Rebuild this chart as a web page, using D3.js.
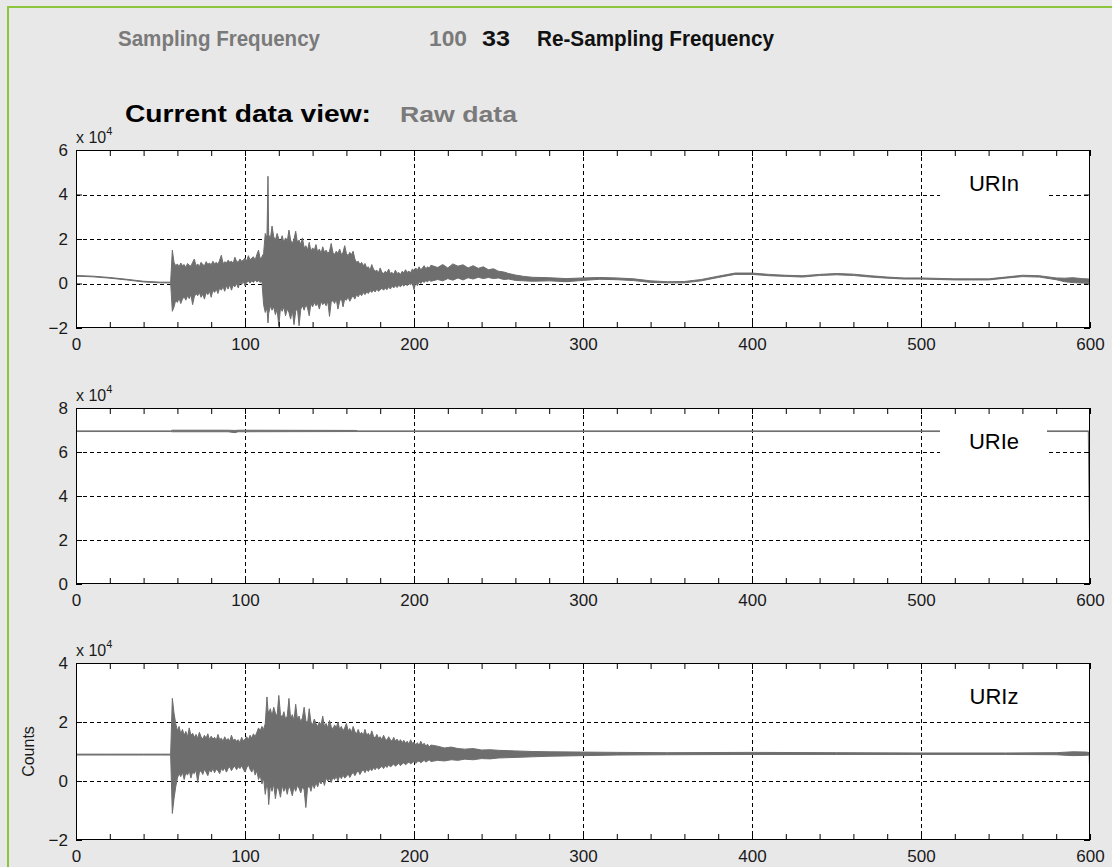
<!DOCTYPE html>
<html>
<head>
<meta charset="utf-8">
<script src="https://cdn.jsdelivr.net/npm/d3@7/dist/d3.min.js"></script>
<style>
  html, body { margin: 0; padding: 0; background: #e8e8e8; }
  svg { display: block; font-family: Arial, "Liberation Sans", sans-serif; }
</style>
</head>
<body>
<svg id="chart"></svg>
<script>
// header values
const samplingFrequency = '100'
const resamplingFrequency = '33'
const dataView = 'Raw data'

// axis ticks
const xTickLabels = [0, 100, 200, 300, 400, 500, 600]
const urinTicks = [-2, 0, 2, 4, 6]
const urieTicks = [0, 2, 4, 6, 8]
const urizTicks = [-2, 0, 2, 4]

// sample times (s) of the strong-motion part, shared by URIn and URIz
const eventTime = [56, 57, 58, 59, 60, 61, 62, 63, 64, 65, 66, 67, 68, 69, 70, 71, 72, 73, 74, 75, 76, 77, 78, 79,
  80, 81, 82, 83, 84, 85, 86, 87, 88, 89, 90, 91, 92, 93, 94, 95, 96, 97, 98, 99, 100, 101, 102, 103,
  104, 105, 106, 107, 108, 109, 110, 111, 112, 113, 113.6, 114, 115, 116, 117, 118, 119, 120, 121, 122, 123,
  124, 125, 126, 127, 128, 129, 130, 131, 132, 133, 134, 135, 136, 137, 138, 139, 140, 141, 142, 143,
  144, 145, 146, 147, 148, 149, 150, 151, 152, 153, 154, 155, 156, 157, 158, 159, 160, 161, 162, 163,
  164, 165, 166, 167, 168, 169, 170, 171, 172, 173, 174, 175, 176, 177, 178, 179, 180, 181, 182, 183,
  184, 185, 186, 187, 188, 189, 190, 191, 192, 193, 194, 195, 196, 197, 198, 199, 200, 201, 202, 203,
  204, 205, 206, 207, 208, 209, 210]

// URIn (x 10^4 counts): quiet parts before and after, envelope during the event
const urinPreTime = [0, 10, 20, 30, 40, 50]
const urinPreHigh = [0.36, 0.33, 0.27, 0.19, 0.10, 0.06]
const urinPreLow = [0.33, 0.30, 0.24, 0.16, 0.07, 0.03]
const urinEventHigh = [0.06, 1.50, 0.95, 0.80, 0.88, 0.75, 0.92, 0.80, 0.85, 0.72, 0.90, 0.82, 0.78, 0.95, 1.10, 0.80, 0.88, 0.76, 0.95, 0.85, 0.80, 0.98, 0.86, 0.92,
  0.84, 1.00, 0.88, 0.95, 0.86, 1.05, 1.27, 0.90, 0.98, 0.92, 1.05, 0.95, 1.00, 0.90, 1.18, 1.00, 0.95, 1.10, 1.00, 1.05, 1.15, 1.00, 1.25, 1.05,
  1.15, 1.20, 1.05, 1.30, 1.50, 1.10, 1.20, 1.35, 2.25, 2.05, 4.82, 2.20, 2.00, 2.58, 2.10, 1.95, 2.25, 2.00, 1.90, 2.15, 1.85,
  2.05, 1.90, 2.40, 1.95, 1.80, 2.00, 2.35, 1.85, 1.95, 1.75, 2.05, 1.60, 1.70, 1.50, 1.85, 1.45, 1.60, 1.50, 1.75, 1.40,
  1.55, 1.35, 1.65, 1.40, 1.50, 1.35, 1.45, 1.80, 1.40, 1.30, 1.45, 1.35, 1.55, 1.30, 1.40, 1.70, 1.35, 1.25, 1.40, 1.30,
  1.45, 1.10, 0.95, 1.00, 0.85, 0.95, 0.80, 0.90, 0.70, 0.75, 0.60, 0.85, 0.65, 0.55, 0.60, 0.48, 0.70, 0.50, 0.45, 0.55,
  0.48, 0.65, 0.45, 0.50, 0.42, 0.60, 0.45, 0.50, 0.40, 0.55, 0.48, 0.62, 0.50, 0.55, 0.48, 0.65, 0.58, 0.70, 0.60, 0.75,
  0.62, 0.70, 0.80, 0.66, 0.75, 0.68, 0.82]
const urinEventLow = [0.03, -1.25, -1.05, -0.75, -0.85, -0.65, -0.90, -0.70, -0.60, -0.75, -0.55, -0.68, -0.50, -0.95, -0.60, -0.45, -0.55, -0.40, -0.62, -0.48, -0.70, -0.40, -0.50, -0.35,
  -0.62, -0.30, -0.40, -0.25, -0.45, -0.20, -0.30, -0.15, -0.35, -0.10, -0.25, -0.05, -0.30, -0.08, -0.15, 0.00, -0.20, 0.05, -0.05, 0.10, -0.10, 0.05, 0.10, 0.02,
  0.12, 0.05, 0.15, 0.08, 0.12, 0.05, 0.10, -0.95, -1.30, -1.10, -1.77, -1.35, -1.00, -1.20, -1.05, -1.40, -1.15, -1.92, -1.10, -1.25, -1.05,
  -1.45, -1.15, -1.30, -1.60, -1.20, -1.85, -1.25, -1.10, -1.90, -1.15, -1.00, -1.20, -0.95, -1.10, -1.45, -0.90, -1.05, -0.85, -1.00, -0.90,
  -1.15, -0.80, -0.95, -0.85, -1.00, -0.80, -1.48, -0.85, -0.75, -0.90, -0.70, -1.15, -0.80, -0.65, -1.05, -0.70, -0.75, -0.60, -0.80, -0.65,
  -0.55, -0.70, -0.50, -0.60, -0.45, -0.55, -0.40, -0.50, -0.38, -0.45, -0.32, -0.40, -0.30, -0.38, -0.25, -0.35, -0.28, -0.22, -0.30, -0.20,
  -0.28, -0.15, -0.25, -0.12, -0.20, -0.10, -0.18, -0.08, -0.15, -0.05, -0.12, -0.02, -0.10, 0.00, -0.05, 0.02, -0.28, 0.05, -0.10, 0.08,
  0.00, 0.10, 0.05, 0.12, 0.08, 0.15, 0.10]
const urinPostTime = [214, 217, 220, 223, 226, 229, 232, 235, 238, 241, 244, 247, 250, 253, 256, 260, 265, 270, 280, 290,
  300, 310, 320, 330, 340, 350, 360, 370, 380, 390, 400, 410, 420, 430, 440, 450, 460, 470, 480, 490,
  500, 510, 520, 530, 540, 550, 560, 570, 580, 585, 590, 595, 600]
const urinPostHigh = [0.72, 0.85, 0.70, 0.88, 0.78, 0.84, 0.70, 0.80, 0.68, 0.75, 0.62, 0.66, 0.55, 0.52, 0.45, 0.38, 0.32, 0.28, 0.26, 0.22,
  0.25, 0.27, 0.25, 0.21, 0.12, 0.08, 0.09, 0.18, 0.33, 0.47, 0.47, 0.41, 0.37, 0.35, 0.41, 0.45, 0.42, 0.35, 0.29, 0.25,
  0.25, 0.23, 0.21, 0.21, 0.21, 0.29, 0.37, 0.35, 0.25, 0.24, 0.26, 0.22, 0.20]
const urinPostLow = [0.18, 0.12, 0.22, 0.15, 0.25, 0.16, 0.26, 0.20, 0.28, 0.22, 0.27, 0.22, 0.25, 0.18, 0.20, 0.14, 0.12, 0.10, 0.12, 0.08,
  0.14, 0.19, 0.17, 0.13, 0.05, 0.03, 0.03, 0.12, 0.27, 0.41, 0.41, 0.35, 0.32, 0.29, 0.36, 0.39, 0.36, 0.29, 0.24, 0.20,
  0.20, 0.18, 0.16, 0.16, 0.16, 0.24, 0.31, 0.29, 0.17, 0.08, 0.04, 0.02, 0.04]

// URIe: near-constant offset, drops to zero on the last sample
const urieTime = [0, 56, 57, 90, 94, 96, 165, 167, 599, 600]
const urieHigh = [6.96, 6.96, 6.99, 6.99, 6.98, 6.99, 6.98, 6.96, 6.96, 6.96]
const urieLow = [6.93, 6.93, 6.92, 6.92, 6.88, 6.92, 6.93, 6.93, 6.93, 0.00]

// URIz
const urizPreTime = [0, 20, 40, 50]
const urizPreHigh = [0.91, 0.91, 0.91, 0.91]
const urizPreLow = [0.88, 0.88, 0.88, 0.88]
const urizEventHigh = [0.91, 2.80, 2.30, 1.95, 1.70, 1.85, 1.60, 1.75, 1.55, 1.68, 1.50, 1.80, 1.55, 1.62, 1.48, 1.58, 1.45, 1.65, 1.50, 1.42, 1.55, 1.45, 1.60, 1.40,
  1.52, 1.42, 1.48, 1.38, 1.58, 1.40, 1.45, 1.35, 1.50, 1.38, 1.44, 1.35, 1.55, 1.38, 1.42, 1.35, 1.40, 1.30, 1.48, 1.36, 1.42, 1.50, 1.40, 1.55,
  1.45, 1.60, 1.50, 1.65, 1.80, 1.70, 1.85, 1.75, 1.95, 2.85, 2.40, 2.30, 2.45, 2.20, 2.50, 2.30, 2.20, 2.90, 2.25, 2.15, 2.35,
  2.10, 2.20, 2.80, 2.10, 2.25, 2.05, 2.60, 2.10, 2.20, 2.00, 2.15, 2.50, 2.05, 1.95, 2.45, 2.00, 1.90, 2.10, 1.95, 1.85,
  2.00, 1.90, 2.20, 1.85, 1.95, 1.80, 2.05, 1.85, 1.75, 1.90, 1.80, 2.00, 1.75, 1.85, 1.70, 1.80, 1.95, 1.70, 1.78, 1.65,
  1.85, 1.68, 1.60, 1.75, 1.58, 1.65, 1.55, 1.75, 1.55, 1.62, 1.50, 1.70, 1.52, 1.45, 1.58, 1.45, 1.50, 1.40, 1.55, 1.42,
  1.38, 1.50, 1.40, 1.35, 1.48, 1.35, 1.42, 1.32, 1.40, 1.30, 1.38, 1.28, 1.35, 1.25, 1.40, 1.28, 1.32, 1.22, 1.30, 1.20,
  1.35, 1.22, 1.28, 1.18, 1.25, 1.15, 1.22]
const urizEventLow = [0.88, -1.10, -0.60, -0.20, 0.10, 0.25, 0.15, 0.30, 0.05, 0.28, 0.20, 0.35, 0.10, 0.30, 0.25, 0.38, -0.05, 0.30, 0.35, 0.22, 0.40, 0.30, 0.18, 0.38,
  0.30, 0.42, 0.28, 0.40, 0.35, 0.25, 0.42, 0.35, 0.45, 0.30, 0.42, 0.48, 0.35, 0.45, 0.50, 0.38, 0.48, 0.42, 0.52, 0.40, 0.30, 0.45, 0.55, 0.40,
  0.30, 0.45, 0.20, 0.35, 0.05, 0.20, -0.10, 0.10, -0.45, -0.05, -0.30, -0.80, -0.15, -0.35, -0.10, -0.60, -0.20, -0.30, -0.55, -0.15, -0.35,
  -0.20, -0.45, -0.15, -0.30, -0.50, -0.20, -0.35, -0.15, -0.25, -0.40, -0.20, -0.30, -0.90, -0.25, -0.15, -0.35, -0.10, -0.25, -0.05, -0.20,
  0.00, -0.10, 0.05, -0.15, 0.10, 0.00, 0.08, -0.05, 0.12, 0.05, 0.15, 0.00, 0.18, 0.08, 0.20, 0.10, 0.15, 0.25, 0.12, 0.22,
  0.30, 0.18, 0.28, 0.35, 0.22, 0.32, 0.38, 0.28, 0.40, 0.32, 0.42, 0.35, 0.45, 0.38, 0.48, 0.40, 0.45, 0.50, 0.42, 0.52,
  0.46, 0.55, 0.48, 0.52, 0.58, 0.50, 0.55, 0.60, 0.52, 0.58, 0.62, 0.55, 0.60, 0.64, 0.58, 0.62, 0.66, 0.60, 0.65, 0.68,
  0.62, 0.66, 0.70, 0.64, 0.68, 0.72, 0.66]
const urizPostTime = [214, 218, 222, 226, 230, 235, 240, 245, 250, 260, 270, 280, 300, 320, 350, 400, 450, 500, 550, 580, 590, 598, 599.5, 600]
const urizPostHigh = [1.18, 1.12, 1.15, 1.10, 1.08, 1.10, 1.05, 1.06, 1.04, 1.02, 1.00, 0.99, 0.98, 0.97, 0.96, 0.97, 0.96, 0.95, 0.95, 0.96, 0.99, 0.98, 0.96, 0.96]
const urizPostLow = [0.70, 0.68, 0.72, 0.70, 0.74, 0.72, 0.76, 0.75, 0.78, 0.80, 0.82, 0.84, 0.86, 0.88, 0.89, 0.90, 0.90, 0.90, 0.90, 0.89, 0.86, 0.87, 0.88, 0.00]

const width = 1112
const height = 867
const traceColor = '#6e6e6e'
const grayText = '#7a7a7a'
const labelFont = 'Arial, "Liberation Sans", sans-serif'

const svg = d3.select('#chart').attr('width', width).attr('height', height)

svg.append('rect').attr('width', width).attr('height', height).attr('fill', '#e8e8e8')

// green frame on the left and top
svg.append('path')
  .attr('d', `M8,${height} V7 H${width}`)
  .attr('fill', 'none')
  .attr('stroke', '#8cc63f')
  .attr('stroke-width', 2)

// header
const header = [
  { text: 'Sampling Frequency', x: 118, y: 46, size: 22, len: 202, color: grayText },
  { text: samplingFrequency, x: 429, y: 46, size: 22, len: 38, color: grayText },
  { text: resamplingFrequency, x: 482, y: 46, size: 22, len: 28, color: '#111' },
  { text: 'Re-Sampling Frequency', x: 537, y: 46, size: 22, len: 237, color: '#111' },
  { text: 'Current data view:', x: 125, y: 122, size: 23, len: 246, color: '#000' },
  { text: dataView, x: 400, y: 122, size: 22, len: 117, color: grayText }
]
svg.selectAll('text.header')
  .data(header)
  .join('text')
  .attr('class', 'header')
  .attr('x', d => d.x)
  .attr('y', d => d.y)
  .attr('font-size', d => d.size)
  .attr('font-weight', 'bold')
  .attr('fill', d => d.color)
  .attr('textLength', d => d.len)
  .attr('lengthAdjust', 'spacingAndGlyphs')
  .text(d => d.text)

const x = d3.scaleLinear().domain([0, 600]).range([76, 1090])
const minorTicks = d3.range(0, 601, 20)

const panels = [
  {
    name: 'URIn', top: 150, bottom: 328, ticks: urinTicks,
    time: [...urinPreTime, ...eventTime, ...urinPostTime],
    high: [...urinPreHigh, ...urinEventHigh, ...urinPostHigh],
    low: [...urinPreLow, ...urinEventLow, ...urinPostLow]
  },
  { name: 'URIe', top: 408, bottom: 584, ticks: urieTicks, time: urieTime, high: urieHigh, low: urieLow },
  {
    name: 'URIz', top: 663, bottom: 840, ticks: urizTicks,
    time: [...urizPreTime, ...eventTime, ...urizPostTime],
    high: [...urizPreHigh, ...urizEventHigh, ...urizPostHigh],
    low: [...urizPreLow, ...urizEventLow, ...urizPostLow]
  }
]

panels.forEach((p, i) => {
  const y = d3.scaleLinear().domain(d3.extent(p.ticks)).range([p.bottom, p.top])
  const g = svg.append('g')
  const x0 = x.range()[0]
  const x1 = x.range()[1]

  g.append('rect')
    .attr('x', x0).attr('y', p.top)
    .attr('width', x1 - x0).attr('height', p.bottom - p.top)
    .attr('fill', '#fff')

  g.append('clipPath').attr('id', `clip-${i}`)
    .append('rect')
    .attr('x', x0).attr('y', p.top)
    .attr('width', x1 - x0).attr('height', p.bottom - p.top)

  // grid
  const grid = g.append('g')
    .attr('stroke', '#000')
    .attr('stroke-width', 1)
    .attr('stroke-dasharray', '4,3')
  grid.selectAll('line.vx')
    .data(xTickLabels.slice(1, -1))
    .join('line')
    .attr('x1', d => Math.round(x(d)) + 0.5).attr('x2', d => Math.round(x(d)) + 0.5)
    .attr('y1', p.top).attr('y2', p.bottom)
  grid.selectAll('line.hy')
    .data(p.ticks.slice(1, -1))
    .join('line')
    .attr('x1', x0).attr('x2', x1)
    .attr('y1', d => Math.round(y(d)) + 0.5).attr('y2', d => Math.round(y(d)) + 0.5)

  // trace envelope
  const rows = d3.zip(p.time, p.high, p.low)
  const area = d3.area()
    .x(d => x(d[0]))
    .y0(d => y(d[2]))
    .y1(d => y(d[1]))
  g.append('path')
    .datum(rows)
    .attr('clip-path', `url(#clip-${i})`)
    .attr('d', area)
    .attr('fill', traceColor)
    .attr('stroke', traceColor)
    .attr('stroke-width', 1)

  // legend box
  const ly = p.top + 33
  g.append('rect')
    .attr('x', 940).attr('y', ly - 20)
    .attr('width', 107).attr('height', 40)
    .attr('fill', '#fff')
  g.append('text')
    .attr('x', 994).attr('y', ly + 8)
    .attr('text-anchor', 'middle')
    .attr('font-size', 22)
    .attr('fill', '#000')
    .text(p.name)

  // ticks, inward
  g.append('g')
    .attr('transform', `translate(0,${p.bottom})`)
    .call(d3.axisBottom(x).tickValues(minorTicks).tickSize(-6).tickFormat(''))
    .call(a => a.select('.domain').remove())
  g.append('g')
    .attr('transform', `translate(0,${p.top})`)
    .call(d3.axisTop(x).tickValues(minorTicks).tickSize(-6).tickFormat(''))
    .call(a => a.select('.domain').remove())
  g.append('g')
    .attr('transform', `translate(${x1},0)`)
    .call(d3.axisRight(y).tickValues(p.ticks).tickSize(-6).tickFormat(''))
    .call(a => a.select('.domain').remove())

  const yAxis = g.append('g')
    .attr('transform', `translate(${x0},0)`)
    .call(d3.axisLeft(y).tickValues(p.ticks).tickSize(-6).tickPadding(8).tickFormat(d3.format('d')))
  yAxis.select('.domain').remove()
  yAxis.selectAll('text').attr('font-size', 17).attr('font-family', labelFont).attr('fill', '#1a1a1a')

  const xAxis = g.append('g')
    .attr('transform', `translate(0,${p.bottom})`)
    .call(d3.axisBottom(x).tickValues(xTickLabels).tickSize(0).tickPadding(10))
  xAxis.select('.domain').remove()
  xAxis.selectAll('text').attr('font-size', 17).attr('font-family', labelFont).attr('fill', '#1a1a1a')

  // exponent label
  const exp = g.append('text')
    .attr('x', x0)
    .attr('y', p.top - 7)
    .attr('font-size', 16)
    .attr('fill', '#1a1a1a')
  exp.append('tspan').text('x 10')
  exp.append('tspan').attr('font-size', 11).attr('dy', -8).text('4')

  // axes box
  g.append('rect')
    .attr('x', x0 + 0.5).attr('y', p.top + 0.5)
    .attr('width', x1 - x0 - 1).attr('height', p.bottom - p.top - 1)
    .attr('fill', 'none')
    .attr('stroke', '#000')
    .attr('stroke-width', 1)
})

// y label on the last panel
svg.append('text')
  .attr('transform', `translate(34,${(panels[2].top + panels[2].bottom) / 2}) rotate(-90)`)
  .attr('text-anchor', 'middle')
  .attr('font-size', 16)
  .attr('fill', '#1a1a1a')
  .text('Counts')
</script>
</body>
</html>
